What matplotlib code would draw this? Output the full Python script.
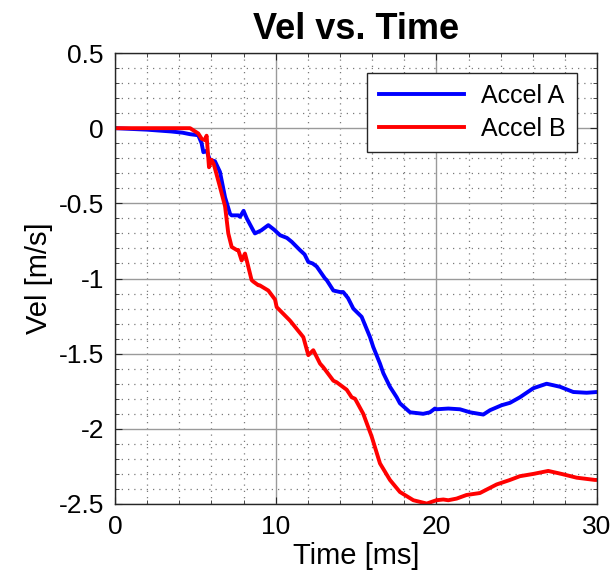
import matplotlib
matplotlib.use("Agg")
import matplotlib.pyplot as plt
from matplotlib.ticker import MultipleLocator

plt.rcParams['font.family'] = ['Liberation Sans', 'DejaVu Sans']

# time [ms] and velocity [m/s]
t_a = [0, 1, 2, 3, 3.5, 4.2, 4.67, 5.18, 5.39, 5.5, 5.7, 5.9, 6.22, 6.53, 6.85, 7.16,
       7.26, 7.67, 7.78, 8.0, 8.2, 8.6, 8.71, 9.1, 9.54, 9.9, 10.27, 10.7, 11.0,
       11.5, 11.8, 12.03, 12.3, 12.55, 13.07, 13.17, 13.59, 14.0, 14.2, 14.5,
       14.83, 15.35, 15.87, 16.07, 16.49, 16.7, 17.11, 17.53, 17.73, 18.36,
       19.18, 19.6, 19.91, 20.0, 20.74, 21.47, 22.09, 22.92, 23.34, 24.06,
       24.58, 25.2, 26.03, 26.86, 27.69, 28.52, 29.35, 30.0]
v_a = [0, -0.005, -0.01, -0.018, -0.022, -0.03, -0.04, -0.047, -0.10, -0.16, -0.15,
       -0.21, -0.22, -0.29, -0.46, -0.57, -0.58, -0.58, -0.59, -0.55, -0.60, -0.68,
       -0.70, -0.68, -0.645, -0.675, -0.712, -0.73, -0.756, -0.81, -0.84, -0.89,
       -0.90, -0.92, -1.00, -1.01, -1.08, -1.09, -1.09, -1.13, -1.20, -1.255,
       -1.39, -1.455, -1.566, -1.63, -1.72, -1.79, -1.83, -1.89, -1.90, -1.89,
       -1.865, -1.87, -1.865, -1.87, -1.89, -1.905, -1.876, -1.843, -1.827,
       -1.79, -1.73, -1.70, -1.72, -1.755, -1.76, -1.755]

t_b = [0, 2, 4, 4.67, 5.18, 5.39, 5.6, 5.7, 5.85, 6.0, 6.15, 6.53, 6.85, 7.05, 7.26,
       7.57, 7.67, 7.88, 8.09, 8.2, 8.5, 8.6, 8.92, 9.0, 9.54, 9.96, 10.06, 10.89,
       11.72, 12.03, 12.34, 12.76, 12.96, 13.59, 13.79, 14.42, 14.73, 14.94,
       15.45, 15.97, 16.49, 17.11, 17.73, 18.57, 19.4, 20.0, 20.43, 20.74, 21.26,
       21.88, 22.71, 23.75, 24.58, 25.2, 26.03, 26.96, 27.79, 28.73, 29.87, 30.0]
v_b = [0, 0, 0, 0, -0.035, -0.07, -0.08, -0.05, -0.26, -0.21, -0.24, -0.39, -0.52,
       -0.70, -0.79, -0.81, -0.81, -0.88, -0.834, -0.88, -1.01, -1.02, -1.045,
       -1.045, -1.08, -1.14, -1.19, -1.28, -1.39, -1.51, -1.477, -1.566, -1.59,
       -1.68, -1.69, -1.74, -1.79, -1.80, -1.90, -2.05, -2.23, -2.34, -2.42,
       -2.475, -2.497, -2.475, -2.47, -2.475, -2.464, -2.44, -2.427, -2.37,
       -2.34, -2.315, -2.30, -2.28, -2.30, -2.325, -2.34, -2.34]

fig = plt.figure(figsize=(6.13, 5.87), dpi=100)
ax = fig.add_axes([0.1876, 0.1414, 0.7864, 0.7683])

ax.plot(t_a, v_a, color='#0000ff', lw=2.8, label='Accel A')
ax.plot(t_b, v_b, color='#ff0000', lw=2.8, label='Accel B')

ax.set_xlim(0, 30)
ax.set_ylim(-2.5, 0.5)
ax.xaxis.set_major_locator(MultipleLocator(10))
ax.xaxis.set_minor_locator(MultipleLocator(2))
ax.yaxis.set_major_locator(MultipleLocator(0.5))
ax.yaxis.set_minor_locator(MultipleLocator(0.1))
ax.set_yticks([-2.5, -2, -1.5, -1, -0.5, 0, 0.5])
ax.set_yticklabels(['-2.5', '-2', '-1.5', '-1', '-0.5', '0', '0.5'])

ax.grid(True, which='major', color='#9a9a9a', lw=1.0)
ax.grid(True, which='minor', color='#7a7a7a', lw=0.9, ls=(0, (1, 4)))
ax.set_axisbelow(True)

ax.tick_params(which='both', direction='in', top=True, right=True, color='#262626')
ax.tick_params(which='major', length=5, labelsize=19, pad=8)
ax.tick_params(which='minor', length=3)
for s in ax.spines.values():
    s.set_color('#262626')
    s.set_linewidth(1.0)

ax.set_title('Vel vs. Time', fontsize=26, fontweight='bold', pad=10)
ax.set_xlabel('Time [ms]', fontsize=21, labelpad=2)
ax.set_ylabel('Vel [m/s]', fontsize=21, labelpad=4)

leg = ax.legend(loc='upper right', bbox_to_anchor=(0.9585, 0.956), fontsize=18,
                handlelength=3.4, fancybox=False, framealpha=1, borderaxespad=0,
                edgecolor='#262626', labelspacing=0.35, handletextpad=0.7,
                borderpad=0.45)
leg.get_frame().set_linewidth(1.0)

fig.savefig('out.png', dpi=100)
